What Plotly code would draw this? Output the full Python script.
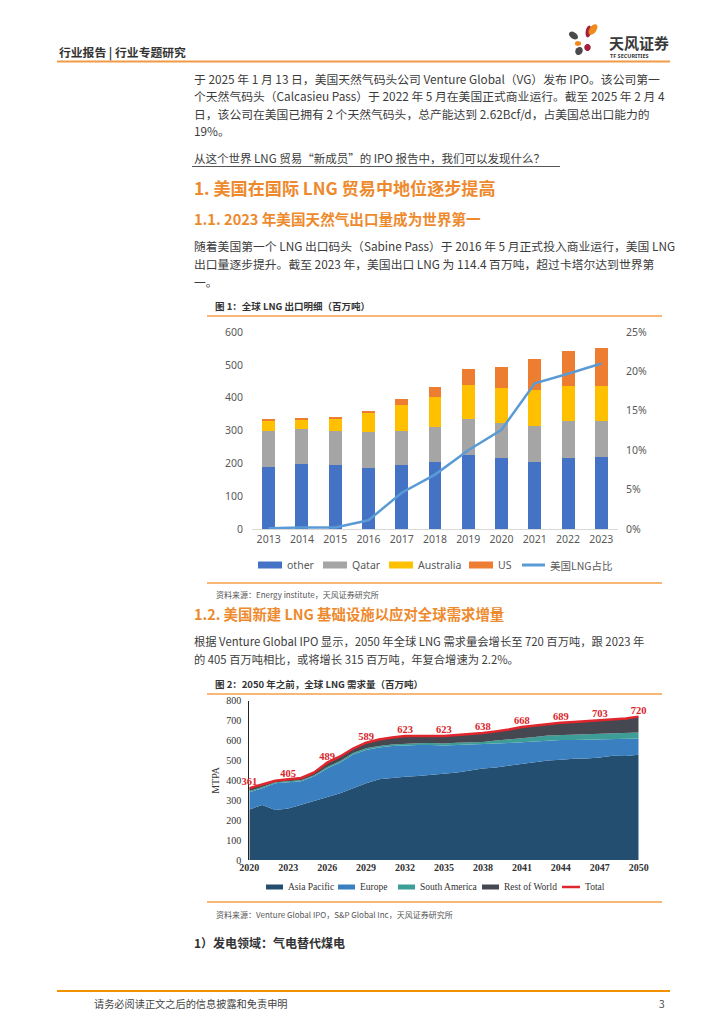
import plotly.graph_objects as go
import math

# ---- figure 1: global LNG exports (million tonnes) ----
years1 = ["2013", "2014", "2015", "2016", "2017", "2018", "2019", "2020", "2021", "2022", "2023"]
other = [190, 199, 194, 187, 195, 205, 226, 217, 205, 217, 220]
qatar = [108, 105, 104, 107, 105, 107, 108, 105, 110, 111, 108]
australia = [33, 31, 38, 62, 79, 91, 106, 108, 108, 109, 109]
us = [2, 2, 4, 4, 17, 28, 47, 62, 95, 106, 114]
us_share = [0.1, 0.2, 0.2, 1.1, 4.6, 6.9, 10.0, 12.6, 18.5, 19.7, 21.0]

# ---- figure 2: global LNG demand to 2050 (MTPA) ----
years2 = list(range(2020, 2051))
asia_pacific = [254, 276, 251, 259, 278, 296, 315, 335, 360, 385, 405, 413, 418, 422, 427, 433,
                440, 449, 459, 465, 474, 482, 490, 500, 504, 509, 510, 515, 524, 522, 529]
europe = [86, 84, 134, 131, 117, 124, 145, 155, 170, 168, 160, 159, 157, 155, 150, 142,
          138, 131, 121, 120, 114, 110, 107, 102, 99, 94, 94, 90, 83, 86, 81]
south_america = [6, 6, 6, 6, 6, 6, 7, 7, 7, 8, 8, 8, 9, 9, 10, 10,
                 11, 12, 13, 15, 17, 19, 21, 23, 24, 25, 26, 27, 28, 29, 30]
rest_of_world = [15, 14, 7, 9, 11, 14, 22, 23, 23, 28, 32, 35, 39, 37, 36, 38,
                 39, 40, 45, 46, 50, 57, 57, 60, 62, 65, 67, 71, 73, 74, 80]
total = [361, 380, 398, 405, 412, 440, 489, 520, 560, 589, 605, 615, 623, 623, 623, 623,
         628, 632, 638, 646, 655, 668, 675, 685, 689, 693, 697, 703, 708, 711, 720]

W, H = 724, 1024
OFF = 8  # page body margin of the html page
ORANGE = "#EE8A2E"
TEXT = "#3C3C3C"
CJK = "Noto Sans CJK SC"
SERIF = "Liberation Serif"


def px(x):
    return (x - OFF) / W


def py(y):
    return 1 - (y - OFF) / H


def petal(cx, cy, rx, ry, ang, color):
    # rotated ellipse as a closed path (pixel coords -> paper)
    pts = []
    a = math.radians(ang)
    for i in range(24):
        t = 2 * math.pi * i / 24
        ex, ey = rx * math.cos(t), ry * math.sin(t)
        x = cx + ex * math.cos(a) - ey * math.sin(a)
        y = cy + ex * math.sin(a) + ey * math.cos(a)
        pts.append("%.5f,%.5f" % (px(x), py(y)))
    path = "M" + " L".join(pts) + " Z"
    return dict(type="path", xref="paper", yref="paper", path=path,
                fillcolor=color, line=dict(width=0))


fig = go.Figure()

bar_series = [("other", other, "#4472C4"), ("Qatar", qatar, "#A5A5A5"),
              ("Australia", australia, "#FFC000"), ("US", us, "#ED7D31")]
line1 = ("美国LNG占比", us_share, "#5B9BD5")
area_series = [("Asia Pacific", asia_pacific, "#244E6F"), ("Europe", europe, "#3A80C1"),
               ("South America", south_america, "#3C9E96"), ("Rest of World", rest_of_world, "#454850")]
line2 = ("Total", total, "#E0262D")

# chart 1 bars + line
for name, vals, col in bar_series:
    fig.add_trace(go.Bar(x=years1, y=vals, name=name, marker=dict(color=col, line=dict(width=0)),
                         xaxis="x", yaxis="y"))
fig.add_trace(go.Scatter(x=years1, y=line1[1], name=line1[0], mode="lines",
                         line=dict(color=line1[2], width=2.5), xaxis="x", yaxis="y2"))

# chart 2 stacked areas
for name, vals, col in area_series:
    fig.add_trace(go.Scatter(x=years2, y=vals, name=name, stackgroup="d", mode="lines",
                             line=dict(width=0, color=col), fillcolor=col,
                             xaxis="x3", yaxis="y3"))
labels = [str(v) if (yr - 2020) % 3 == 0 else "" for yr, v in zip(years2, total)]
fig.add_trace(go.Scatter(x=years2, y=total, name=line2[0], mode="lines+text", text=labels,
                         textposition="top center", cliponaxis=False,
                         textfont=dict(family=SERIF, size=10.5, color="#D9262C", weight="bold"),
                         line=dict(color=line2[2], width=2.5),
                         xaxis="x3", yaxis="y3"))

fig.update_layout(
    width=W, height=H, margin=dict(l=0, r=0, t=0, b=0, autoexpand=False),
    paper_bgcolor="white", plot_bgcolor="white",
    barmode="stack", bargap=0.61, showlegend=False,
    font=dict(family=CJK, color=TEXT),
    xaxis=dict(domain=[px(252), px(618)], anchor="y", type="category", showline=True,
               linecolor="#D9D9D9", ticks="", showgrid=False,
               tickfont=dict(family="Noto Sans", size=10.5, color="#595959")),
    yaxis=dict(domain=[py(529), py(332)], anchor="x", range=[0, 600], dtick=100,
               showgrid=False, zeroline=False, ticks="", ticklabelstandoff=8,
               tickfont=dict(family="Noto Sans", size=10.5, color="#595959")),
    yaxis2=dict(overlaying="y", side="right", anchor="x", range=[0, 25], dtick=5,
                ticksuffix="%", showgrid=False, zeroline=False, ticks="", ticklabelstandoff=7,
                tickfont=dict(family="Noto Sans", size=10.5, color="#595959")),
    xaxis3=dict(domain=[px(249.3), px(638.7)], anchor="y3", range=[2020, 2050], tick0=2020,
                dtick=3, showline=False, showgrid=False, zeroline=False, ticks="",
                tickfont=dict(family=SERIF, size=10, color="#333333", weight="bold")),
    yaxis3=dict(domain=[py(860), py(700.7)], anchor="x3", range=[0, 800], dtick=100,
                showline=True, linecolor="#222222", linewidth=1, layer="below traces",
                showgrid=False, zeroline=False, ticks="", ticklabelstandoff=5,
                title=dict(text="MTPA", font=dict(family=SERIF, size=10, color="#333333"), standoff=4),
                tickfont=dict(family=SERIF, size=10, color="#333333")),
)

ann = []
shapes = []


def txt(x, y, s, size=11, color=TEXT, family=CJK, anchor="left"):
    ann.append(dict(x=px(x), y=py(y), xref="paper", yref="paper", text=s, showarrow=False,
                    xanchor=anchor, yanchor="middle", font=dict(size=size, color=color, family=family)))


def hline(x0, x1, y, color, w):
    shapes.append(dict(type="line", xref="paper", yref="paper", x0=px(x0), x1=px(x1),
                       y0=py(y), y1=py(y), line=dict(color=color, width=w)))


def rect(x0, x1, y0, y1, color):
    shapes.append(dict(type="rect", xref="paper", yref="paper", x0=px(x0), x1=px(x1),
                       y0=py(y1), y1=py(y0), fillcolor=color, line=dict(width=0)))


# header
txt(57, 52, "<b>行业报告 | 行业专题研究</b>", size=11.8, color="#333333")
txt(607, 42, "<b>天风证券</b>", size=15, color="#3A3A3A")
txt(608, 56, "<b>TF SECURITIES</b>", size=5.5, color="#3A3A3A", family="Noto Sans")

# body text
body1 = ["于 2025 年 1 月 13 日，美国天然气码头公司 Venture Global（VG）发布 IPO。该公司第一",
         "个天然气码头（Calcasieu Pass）于 2022 年 5 月在美国正式商业运行。截至 2025 年 2 月 4",
         "日，该公司在美国已拥有 2 个天然气码头，总产能达到 2.62Bcf/d，占美国总出口能力的",
         "19%。"]
for i, s in enumerate(body1):
    txt(192, 78 + i * 17.5, s, size=11.8)
txt(192, 158, "从这个世界 LNG 贸易“新成员”的 IPO 报告中，我们可以发现什么？", size=11.5)
txt(192, 187, "<b>1. 美国在国际 LNG 贸易中地位逐步提高</b>", size=17.1, color=ORANGE)
txt(192, 218, "<b>1.1. 2023 年美国天然气出口量成为世界第一</b>", size=14.6, color=ORANGE)
body2 = ["随着美国第一个 LNG 出口码头（Sabine Pass）于 2016 年 5 月正式投入商业运行，美国 LNG",
         "出口量逐步提升。截至 2023 年，美国出口 LNG 为 114.4 百万吨，超过卡塔尔达到世界第",
         "一。"]
for i, s in enumerate(body2):
    txt(192, 245 + i * 18, s, size=11.8)

txt(213, 306, "<b>图 1：全球 LNG 出口明细（百万吨）</b>", size=9.5, color="#333333")
txt(214, 594, "资料来源：Energy institute，天风证券研究所", size=8, color="#555555")
txt(192, 613, "<b>1.2. 美国新建 LNG 基础设施以应对全球需求增量</b>", size=14.4, color=ORANGE)
txt(192, 641, "根据 Venture Global IPO 显示，2050 年全球 LNG 需求量会增长至 720 百万吨，跟 2023 年", size=11.3)
txt(192, 659, "的 405 百万吨相比，或将增长 315 百万吨，年复合增速为 2.2%。", size=11.3)
txt(213, 684, "<b>图 2：2050 年之前，全球 LNG 需求量（百万吨）</b>", size=9.5, color="#333333")
txt(214, 914, "资料来源：Venture Global IPO，S&P Global Inc，天风证券研究所", size=8, color="#555555")
txt(192, 942, "<b>1）发电领域：气电替代煤电</b>", size=12, color="#333333")

# footer
txt(92, 1003, "请务必阅读正文之后的信息披露和免责申明", size=10.2, color="#444444")
txt(667, 1003, "3", size=10.2, color="#444444", anchor="right")

# legend, chart 1
leg1_x = [258, 323, 389, 469]
for (name, _, col), x in zip(bar_series, leg1_x):
    rect(x, x + 24, 561.5, 568.5, col)
    txt(x + 27, 565, name, size=10.5, color="#595959", family="Noto Sans")
hline(522, 545, 565, line1[2], 3)
txt(548, 565, line1[0], size=10.5, color="#595959")

# legend, chart 2
leg2_x = [266, 338, 398, 482]
for (name, _, col), x in zip(area_series, leg2_x):
    rect(x, x + 17, 884.5, 889.5, col)
    txt(x + 20, 887, name, size=9.5, color="#333333", family=SERIF)
hline(562, 580, 887, line2[2], 2.5)
txt(583, 887, line2[0], size=9.5, color="#333333", family=SERIF)

hline(57, 670, 61.5, "#F29A45", 2)
hline(192, 560, 166.5, "#555555", 1)
hline(207, 662, 316, "#F5A04A", 1.5)
hline(207, 662, 583, "#F5A04A", 1.5)
hline(207, 662, 694, "#F5A04A", 1.5)
hline(207, 662, 902, "#F5A04A", 1.5)
hline(57, 670, 991, "#F29200", 2)

# logo petals
shapes += [
    petal(573.5, 35.5, 5, 3.2, 35, "#4A4A4A"),
    petal(588.5, 31.5, 2.8, 6, 10, "#A3223B"),
    petal(593, 29.5, 3.4, 6, 35, "#F08A1C"),
    petal(578, 43.5, 3.2, 2.4, 0, "#F08A1C"),
    petal(587.5, 47.5, 3.2, 3.5, 0, "#A3223B"),
    petal(579, 51, 3.5, 4.2, 30, "#4A4A4A"),
]
fig.update_layout(annotations=ann, shapes=shapes)

fig.write_html("out.html")
